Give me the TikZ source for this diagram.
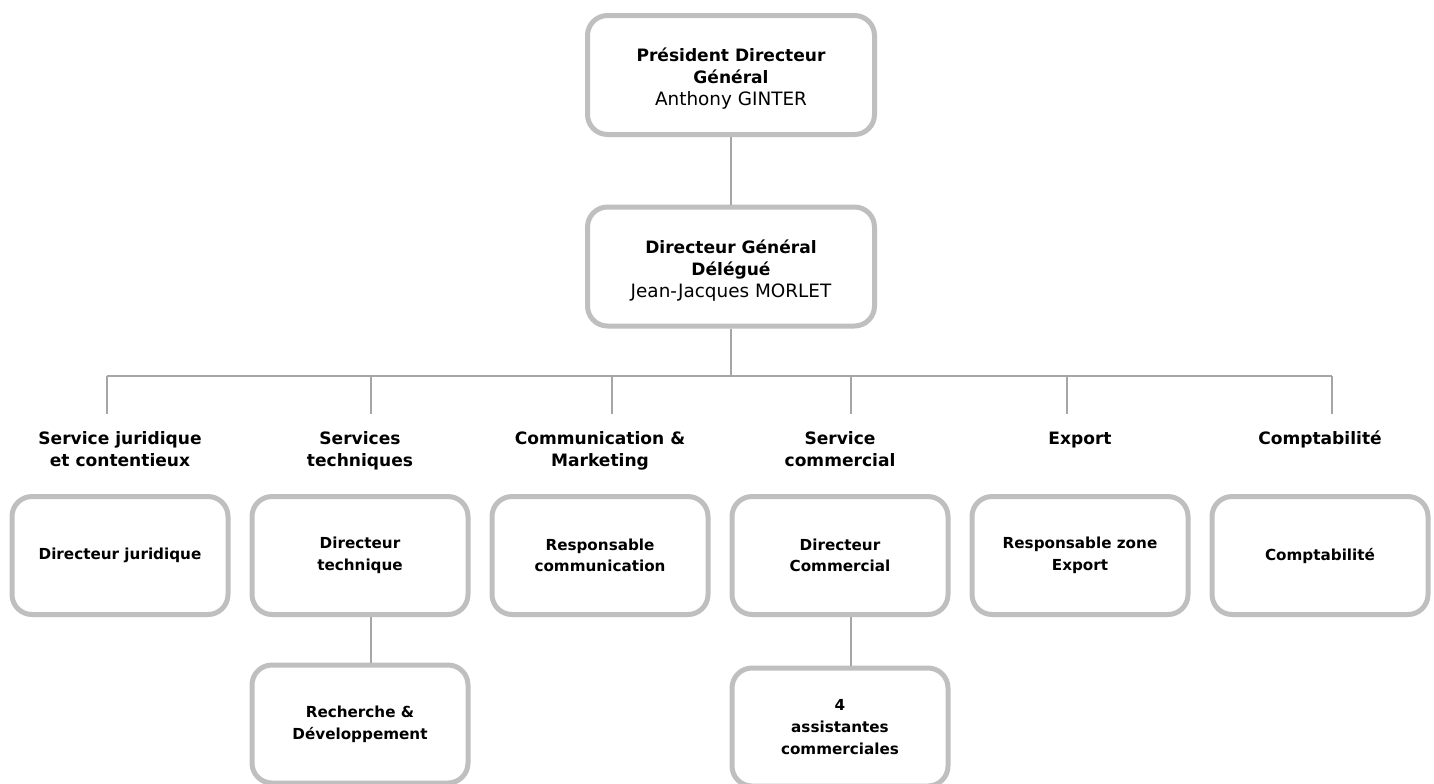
\documentclass[tikz,border=0pt]{standalone}
\usepackage{fontspec}
\setmainfont{DejaVu Sans}
\definecolor{boxgrey}{RGB}{191,191,191}
\definecolor{linkgrey}{RGB}{166,166,166}

\tikzset{every picture/.style={line width=0.75pt},
  topbox/.style={draw=boxgrey,line width=3.75pt,rounded corners=15pt,fill=white,
    minimum width=215.25pt,minimum height=89.25pt,inner sep=0pt},
  toptext/.style={inner sep=0pt,align=center,font=\bfseries\fontsize{12.8}{16.8}\selectfont},
  postbox/.style={draw=boxgrey,line width=3.75pt,rounded corners=15pt,fill=white,
    minimum width=162pt,minimum height=88.5pt,inner sep=0pt,align=center,
    font=\bfseries\fontsize{11.4}{16.2}\selectfont},
  dept/.style={inner sep=0pt,align=center,font=\bfseries\fontsize{12.8}{16.5}\selectfont},
  link/.style={draw=linkgrey,line width=1.5pt}
}
\newcommand{\who}[1]{{\mdseries\fontsize{13.8}{17.2}\selectfont #1}}

\begin{document}
\begin{tikzpicture}[x=0.75pt,y=0.75pt,yscale=-1,xscale=1]
\useasboundingbox (0,0) rectangle (1434,783);

%Rounded Rect: direction
\node[topbox] (pdg) at (731,75) {};
\node[toptext] (pdgtxt) at (731,78.5) {Président Directeur\\Général\\\who{Anthony GINTER}};
\node[topbox] (dgd) at (731,266.5) {};
\node[toptext] (dgdtxt) at (731,270.5) {Directeur Général\\Délégué\\\who{Jean-Jacques MORLET}};

% Text Node: services
\node[dept] (sj) at (120,449) {Service juridique\\et contentieux};
\node[dept] (st) at (360,451) {Services\\techniques};
\node[dept] (cm) at (600,451) {Communication \&\\Marketing};
\node[dept] (sc) at (840,449) {Service\\commercial};
\node[dept] (ex) at (1080,440) {Export};
\node[dept] (cp) at (1320,439) {Comptabilité};

%Rounded Rect: postes
\node[postbox] (djur) at (120,555.5) {Directeur juridique};
\node[postbox] (dtec) at (360,555.5) {Directeur\\technique};
\node[postbox] (rcom) at (600,555.5) {Responsable\\communication};
\node[postbox] (dcom) at (840,555.5) {Directeur\\Commercial};
\node[postbox] (rexp) at (1080,555.5) {Responsable zone\\Export};
\node[postbox] (cpt) at (1320,555.5) {Comptabilité};
\node[postbox] (rd) at (360,724) {Recherche \&\\Développement};
\node[postbox] (asc) at (840,727) {4\\assistantes\\commerciales};

%Straight Lines
\coordinate (bus) at (731,376);
\coordinate (d1) at (107,414);
\coordinate (d2) at (371,414);
\coordinate (d3) at (612,414);
\coordinate (d4) at (851,414);
\coordinate (d5) at (1067,414);
\coordinate (d6) at (1332,414);
\draw[link] (pdg) -- (dgd);
\draw[link] (dgd) -- (bus);
\draw[link] (d1 |- bus) -- (d6 |- bus);
\foreach \d in {d1,d2,d3,d4,d5,d6}
  \draw[link] (\d |- bus) -- (\d);
\draw[link] (dtec.south -| d2) -- (rd.north -| d2);
\draw[link] (dcom.south -| d4) -- (asc.north -| d4);

\end{tikzpicture}
\end{document}
